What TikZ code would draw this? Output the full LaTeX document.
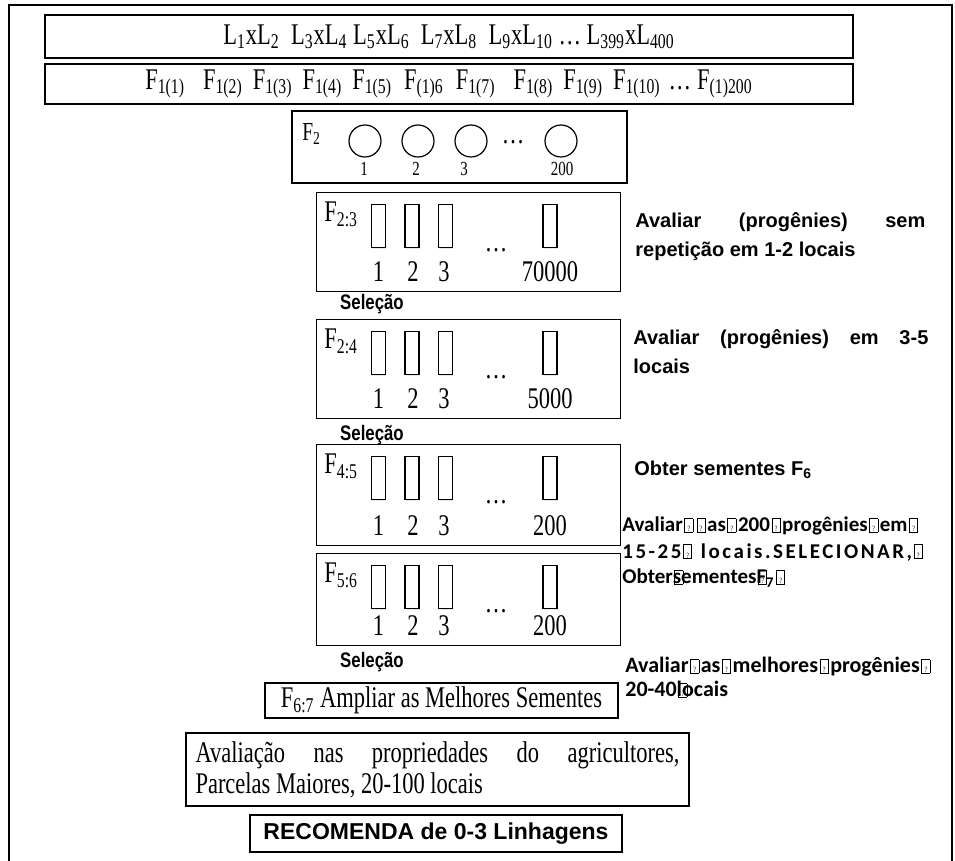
\documentclass[tikz,border=0pt]{standalone}
\usepackage{fontspec}
\setmainfont{Liberation Serif}[FakeStretch=0.75]
\newfontfamily\arialfont{Liberation Sans}
\newfontfamily\selfont{Liberation Sans}[FakeStretch=0.8]
\newfontfamily\calfont{Carlito}
\usetikzlibrary{positioning,shadows}
\newcommand{\lo}[1]{\textsubscript{#1}}
\newcommand{\qb}{\hspace{0.8pt}{\setlength{\fboxsep}{0pt}\setlength{\fboxrule}{0.35pt}\fbox{\makebox[3.8pt]{\rule{0pt}{6.5pt}\normalfont\fontsize{4}{4}\selectfont ?}}}\hspace{0.8pt}}
\newcommand{\qz}{\rlap{\qb}}

\begin{document}
\begin{tikzpicture}[x=0.5pt,y=-0.5pt,
  frame/.style={draw, line width=0.6pt, inner sep=0pt},
  serif/.style={font=\fontsize{15}{17}\selectfont},
  small/.style={font=\fontsize{10}{11}\selectfont},
  bar/.style={draw, fill=white, line width=0.6pt, minimum width=7pt, minimum height=21.5pt, inner sep=0pt,
    drop shadow={shadow xshift=0.3pt, shadow yshift=-0.8pt, opacity=0.18}},
  seed/.style={draw, circle, line width=0.6pt, minimum size=16pt, inner sep=0pt},
  note/.style={font=\arialfont\bfseries\fontsize{10}{14.5}\selectfont, anchor=base west, inner sep=0pt},
  cnote/.style={font=\calfont\bfseries\fontsize{10.5}{13}\selectfont, anchor=base west, inner sep=0pt, align=left},
  sel/.style={font=\selfont\bfseries\fontsize{10.5}{11}\selectfont, inner sep=0pt}]
\useasboundingbox (0,0) rectangle (955,861);
\draw[line width=0.8pt] (9,861) -- (9,5) -- (952,5) -- (952,861);

\node[frame, serif, minimum width=404pt, minimum height=21.5pt] (lrow) at (449,36.5)
  {L\lo{1}xL\lo{2}\ \ L\lo{3}xL\lo{4} L\lo{5}xL\lo{6}\ \ L\lo{7}xL\lo{8}\ \ L\lo{9}xL\lo{10} \dots\ L\lo{399}xL\lo{400}};
\node[frame, serif, minimum width=404pt, minimum height=20pt] (frow) at (449,84)
  {F\lo{1(1)}\hspace{9pt}F\lo{1(2)}\hspace{5pt}F\lo{1(3)}\hspace{5pt}F\lo{1(4)}\hspace{5pt}F\lo{1(5)}\hspace{6pt}F\lo{(1)6}\hspace{6pt}F\lo{1(7)}\hspace{9pt}F\lo{1(8)}\hspace{5pt}F\lo{1(9)}\hspace{5pt}F\lo{1(10)}\hspace{4pt}\dots\hspace{3pt}F\lo{(1)200}};

\node[frame, minimum width=167.5pt, minimum height=36pt] (f2box) at (459.5,147) {};
\node[font=\fontsize{13}{15}\selectfont, anchor=base west, inner sep=0pt] (f2lab) at (302,141) {F\lo{2}};
\node[seed] (c1) at (365,141) {};
\node[seed] (c2) at (418,141) {};
\node[seed] (c3) at (471,141) {};
\node[seed] (c4) at (561,141) {};
\node[serif] (cdots) at (513,142) {\dots};
\node[small] (n1) at (364,169) {1};
\node[small] (n2) at (416,169) {2};
\node[small] (n3) at (464,169) {3};
\node[small] (n4) at (562,169) {200};

\foreach \nm/\ytop/\hh/\hpt/\lab/\last in {a/192/99/49.5/2:3/70000, b/319/99/49.5/2:4/5000, c/444/101/50.5/4:5/200, d/553/92/46/5:6/200}{
  \node[frame, minimum width=152pt, minimum height=\hpt pt, anchor=north west] (box\nm) at (316,\ytop) {};
  \node[serif, anchor=base west, inner sep=0pt] (lab\nm) at (324,\ytop+30) {F\lo{\lab}};
  \foreach \i/\bx in {1/378.5,2/412,3/445.5,4/550}
    \node[bar, anchor=north] (bar\nm\i) at (\bx,\ytop+12) {};
  \node[serif] (dots\nm) at (496,\ytop+58) {\dots};
  \node[serif] (num\nm1) at (378.5,\ytop+\hh-19) {1};
  \node[serif] (num\nm2) at (413,\ytop+\hh-19) {2};
  \node[serif] (num\nm3) at (444,\ytop+\hh-19) {3};
  \node[serif] (num\nm4) at (550,\ytop+\hh-19) {\last};
}

\node[sel] (sel1) at (372,304) {Seleção};
\node[sel] (sel2) at (372,435) {Seleção};
\node[sel] (sel3) at (372,662) {Seleção};

\node[note, text width=145pt, align=justify] (t1) at (635,228)
  {Avaliar (progênies) sem\linebreak repetição em 1-2 locais};
\node[note, text width=147.5pt, align=justify] (t2) at (633,345)
  {Avaliar (progênies) em 3-5\linebreak locais};
\node[note] (t3) at (634,476) {Obter sementes F\lo{6}};
\node[cnote] (t4) at (622,584)
  {Avaliar\qb\qb as\qb 200\qb progênies\qb em\qb\\{\addfontfeatures{LetterSpace=12}15-25\qb\ locais.SELECIONAR,\qb}\\Obter\qz sementes\qz F\lo{7}\qb};
\node[cnote, font=\calfont\bfseries\fontsize{11}{12}\selectfont] (t5) at (625,697)
  {Avaliar\qb as\qb melhores\qb progênies\qb\\20-40\qz locais};

\node[frame, serif, minimum width=176.5pt, minimum height=17.5pt] (f67) at (441.5,700.5)
  {F\lo{6:7} Ampliar as Melhores Sementes};
\node[frame, font=\fontsize{15}{15.5}\selectfont, text width=242pt, align=justify,
  inner xsep=4.75pt, minimum height=36.5pt] (farm) at (437.5,769.5)
  {Avaliação nas propriedades do agricultores,\linebreak Parcelas Maiores, 20-100 locais};
\node[frame, font=\arialfont\bfseries\fontsize{11.5}{13}\selectfont, minimum width=186pt, minimum height=18.5pt] (rec) at (436,833.5)
  {RECOMENDA de 0-3 Linhagens};
\end{tikzpicture}
\end{document}
